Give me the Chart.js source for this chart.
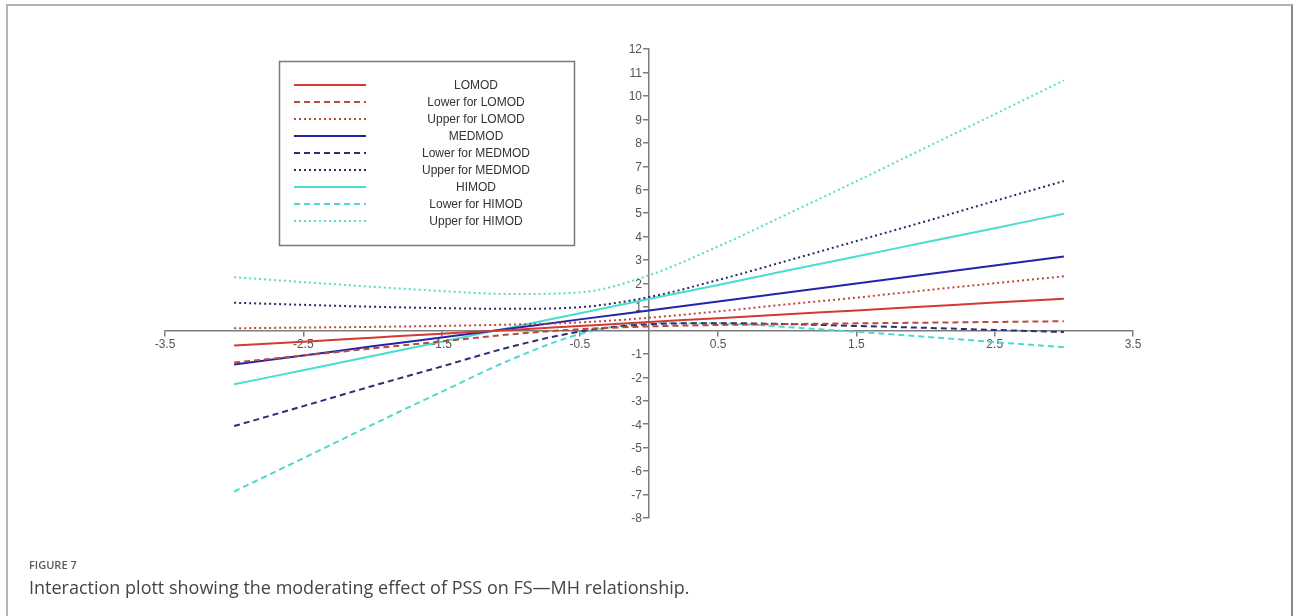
<!DOCTYPE html>
<html>
<head>
<meta charset="utf-8">
<script src="https://cdn.jsdelivr.net/npm/chart.js@4.4.1/dist/chart.umd.min.js"></script>
<style>
  html, body { margin: 0; padding: 0; background: #fff; }
  #wrap { position: relative; width: 1293px; height: 616px; overflow: hidden; }
  #frame { position: absolute; left: 6px; top: 4px; width: 1287px; height: 700px; border: 2px solid #b4b4b4; border-right-color: #8a8a8a; box-sizing: border-box; }
  canvas { position: absolute; left: 0; top: 0; }
  #figlabel { position: absolute; left: 29px; top: 557px; font-family: "Open Sans", "Liberation Sans", sans-serif; font-size: 11px; font-weight: 600; color: #5a5a5a; }
  #caption { position: absolute; left: 29px; top: 575px; font-family: "Open Sans", "Liberation Sans", sans-serif; font-size: 18px; color: #454545; white-space: nowrap; }
</style>
</head>
<body>
<div id="wrap">
  <div id="frame"></div>
  <canvas id="c" width="1293" height="616"></canvas>
  <div id="figlabel">FIGURE 7</div>
  <div id="caption">Interaction plott showing the moderating effect of PSS on FS—MH relationship.</div>
</div>
<script>
// ---- data ----
const xValues = [-3, -2.5, -2, -1.5, -1, -0.5, 0, 0.5, 1, 1.5, 2, 2.5, 3];

const seriesNames = ["LOMOD", "Lower for LOMOD", "Upper for LOMOD",
                     "MEDMOD", "Lower for MEDMOD", "Upper for MEDMOD",
                     "HIMOD", "Lower for HIMOD", "Upper for HIMOD"];

const loMod      = [-0.64, -0.48, -0.31, -0.14, 0.02, 0.19, 0.36, 0.52, 0.69, 0.85, 1.02, 1.19, 1.35];
const loModLower = [-1.37, -1.07, -0.77, -0.47, -0.17, 0.05, 0.17, 0.23, 0.27, 0.30, 0.33, 0.36, 0.39];
const loModUpper = [0.09, 0.12, 0.15, 0.19, 0.25, 0.34, 0.54, 0.81, 1.11, 1.40, 1.71, 2.01, 2.31];

const medMod      = [-1.45, -1.07, -0.68, -0.30, 0.08, 0.47, 0.85, 1.23, 1.62, 2.00, 2.38, 2.77, 3.15];
const medModLower = [-4.08, -3.23, -2.37, -1.54, -0.70, -0.05, 0.26, 0.31, 0.27, 0.19, 0.11, 0.02, -0.07];
const medModUpper = [1.18, 1.09, 1.01, 0.95, 0.92, 0.99, 1.42, 2.15, 2.97, 3.81, 4.65, 5.52, 6.37];

const hiMod      = [-2.30, -1.70, -1.09, -0.48, 0.12, 0.73, 1.34, 1.94, 2.55, 3.15, 3.76, 4.36, 4.97];
const hiModLower = [-6.87, -5.45, -4.02, -2.62, -1.25, -0.16, 0.30, 0.30, 0.14, -0.06, -0.27, -0.50, -0.72];
const hiModUpper = [2.27, 2.06, 1.86, 1.68, 1.55, 1.62, 2.35, 3.58, 4.96, 6.36, 7.79, 9.22, 10.66];

const xTickValues = [-3.5, -2.5, -1.5, -0.5, 0.5, 1.5, 2.5, 3.5];
const xTickLabels = ["-3.5", "-2.5", "-1.5", "-0.5", "0.5", "1.5", "2.5", "3.5"];
const yTickValues = [12, 11, 10, 9, 8, 7, 6, 5, 4, 3, 2, 1, -1, -2, -3, -4, -5, -6, -7, -8];
const yTickLabels = ["12", "11", "10", "9", "8", "7", "6", "5", "4", "3", "2", "1", "-1", "-2", "-3", "-4", "-5", "-6", "-7", "-8"];

// ---- styles ----
const RED = "#d23a33", RED_D = "#b84a3e", RED_DOT = "#c2483f";
const BLUE = "#2424a8", NAVY_D = "#2e2e78", NAVY_DOT = "#2b2b66";
const CYAN = "#48ddd0", CYAN_D = "#4fd8cf", CYAN_DOT = "#55dccf";
const DASH = [6, 4], DOT = [2, 3];

function mk(label, ys, color, dash, width) {
  return {
    label,
    data: xValues.map((x, i) => ({ x, y: ys[i] })),
    borderColor: color,
    backgroundColor: color,
    borderDash: dash,
    borderWidth: width,
    pointRadius: 0,
    fill: false,
    cubicInterpolationMode: "monotone"
  };
}

const datasets = [
  mk(seriesNames[0], loMod, RED, [], 2),
  mk(seriesNames[1], loModLower, RED_D, DASH, 2),
  mk(seriesNames[2], loModUpper, RED_DOT, DOT, 2),
  mk(seriesNames[3], medMod, BLUE, [], 2),
  mk(seriesNames[4], medModLower, NAVY_D, DASH, 2),
  mk(seriesNames[5], medModUpper, NAVY_DOT, DOT, 2),
  mk(seriesNames[6], hiMod, CYAN, [], 2),
  mk(seriesNames[7], hiModLower, CYAN_D, DASH, 2),
  mk(seriesNames[8], hiModUpper, CYAN_DOT, DOT, 2)
];

const tickFontCss = "12px 'Liberation Sans', Arial, sans-serif";

// y-axis labels placed left of the centred axis (Chart.js puts them on the axis line itself)
const yLabels = {
  id: "yLabels",
  afterDraw(chart) {
    const ctx = chart.ctx;
    const xs = chart.scales.x, ys = chart.scales.y;
    const ax = xs.getPixelForValue(0);
    ctx.save();
    ctx.font = tickFontCss;
    ctx.fillStyle = "#555";
    ctx.textAlign = "right";
    ctx.textBaseline = "middle";
    yTickValues.forEach((v, i) => {
      ctx.fillText(yTickLabels[i], ax - 7, ys.getPixelForValue(v) + 1);
    });
    ctx.restore();
  }
};

const boxLegend = {
  id: "boxLegend",
  afterDraw(chart) {
    const ctx = chart.ctx;
    ctx.save();
    ctx.fillStyle = "#ffffff";
    ctx.fillRect(279.5, 61.5, 295, 184);
    ctx.strokeStyle = "#7a7a7a";
    ctx.lineWidth = 1.5;
    ctx.setLineDash([]);
    ctx.strokeRect(279.5, 61.5, 295, 184);
    ctx.font = tickFontCss;
    ctx.textAlign = "center";
    ctx.textBaseline = "middle";
    chart.data.datasets.forEach((ds, i) => {
      const y = 85 + 17 * i;
      ctx.beginPath();
      ctx.setLineDash(ds.borderDash || []);
      ctx.strokeStyle = ds.borderColor;
      ctx.lineWidth = ds.borderWidth;
      ctx.moveTo(294, y);
      ctx.lineTo(366, y);
      ctx.stroke();
      ctx.setLineDash([]);
      ctx.fillStyle = "#333333";
      ctx.fillText(ds.label, 476, y + 1);
    });
    ctx.restore();
  }
};

const axisColor = "#7d7d7d";
const tickFont = { family: "'Liberation Sans', Arial, sans-serif", size: 12 };

new Chart(document.getElementById("c"), {
  type: "line",
  data: { datasets },
  options: {
    responsive: false,
    animation: false,
    devicePixelRatio: 1,
    layout: { padding: { left: 165, right: 160, top: 49, bottom: 98 } },
    plugins: { legend: { display: false }, tooltip: { enabled: false } },
    scales: {
      x: {
        type: "linear",
        min: -3.5, max: 3.5,
        position: { y: 0 },
        afterBuildTicks: (s) => { s.ticks = xTickValues.map(v => ({ value: v })); },
        ticks: {
          color: "#555",
          font: tickFont,
          padding: 2,
          maxRotation: 0,
          autoSkip: false,
          callback: (v) => { const i = xTickValues.indexOf(v); return i >= 0 ? xTickLabels[i] : ""; }
        },
        grid: { display: true, drawOnChartArea: false, drawTicks: true, tickLength: 5, color: axisColor, lineWidth: 1.5 },
        border: { display: true, color: axisColor, width: 1.5 }
      },
      y: {
        type: "linear",
        min: -8, max: 12,
        position: { x: 0 },
        afterBuildTicks: (s) => { s.ticks = yTickValues.map(v => ({ value: v })); },
        ticks: { display: false },
        grid: { display: true, drawOnChartArea: false, drawTicks: true, tickLength: 5, color: axisColor, lineWidth: 1.5 },
        border: { display: true, color: axisColor, width: 1.5 }
      }
    }
  },
  plugins: [yLabels, boxLegend]
});
</script>
</body>
</html>
